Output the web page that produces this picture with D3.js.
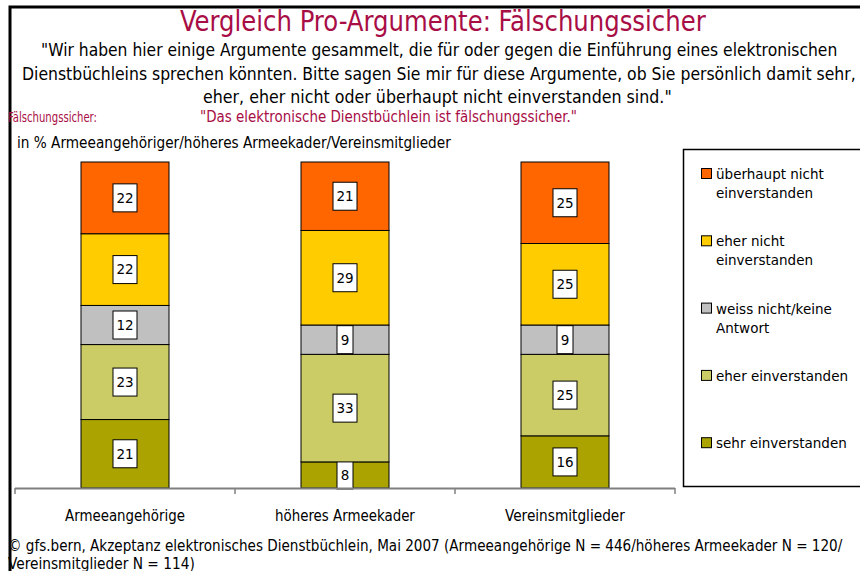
<!DOCTYPE html>
<html>
<head>
<meta charset="utf-8">
<script src="https://cdn.jsdelivr.net/npm/d3@7"></script>
<style>
  body { margin: 0; background: #fff; }
  svg { display: block; }
  .narrow { font-family: "Liberation Sans Narrow", "Arial Narrow", "DejaVu Sans Condensed", sans-serif; }
  .tahoma { font-family: "DejaVu Sans", Verdana, sans-serif; }
</style>
</head>
<body>
<svg width="860" height="571"></svg>
<script>
// Kategorien und Werte (in %)
var categories = ["Armeeangehörige", "höheres Armeekader", "Vereinsmitglieder"];
var sehrEinverstanden = [21, 8, 16];
var eherEinverstanden = [23, 33, 25];
var weissNicht = [12, 9, 9];
var eherNicht = [22, 29, 25];
var ueberhauptNicht = [22, 21, 25];

// von unten nach oben gestapelt
var seriesNames = ["sehr einverstanden", "eher einverstanden", "weiss nicht/keine Antwort",
    "eher nicht einverstanden", "überhaupt nicht einverstanden"];
var seriesValues = [sehrEinverstanden, eherEinverstanden, weissNicht, eherNicht, ueberhauptNicht];
var colors = ["#aba400", "#cccc66", "#c0c0c0", "#ffcc00", "#ff6600"];
// Legendentexte (oben nach unten), Zeilen getrennt
var legendLines = [
    ["überhaupt nicht", "einverstanden"],
    ["eher nicht", "einverstanden"],
    ["weiss nicht/keine", "Antwort"],
    ["eher einverstanden"],
    ["sehr einverstanden"]
];
var red = "#a80d45";

var svg = d3.select("svg");

// schmale Schrift: horizontal auf Zielbreite skaliert
function narrowText(x0, y0, size, width, txt, fill) {
    var t = svg.append("text").attr("class", "narrow")
        .attr("font-size", size)
        .attr("fill", fill || "#000")
        .text(txt);
    var sx = width / t.node().getComputedTextLength();
    t.attr("transform", "translate(" + x0 + "," + y0 + ") scale(" + sx + ",1)");
    return t;
}

// Rahmen links und oben
svg.append("path")
    .attr("d", "M10,571V7H860")
    .attr("fill", "none")
    .attr("stroke", "#000")
    .attr("stroke-width", 3);

// Titel
narrowText(180, 31, 28, 526, "Vergleich Pro-Argumente: Fälschungssicher", red);

narrowText(41, 56, 18.5, 797, "\"Wir haben hier einige Argumente gesammelt, die für oder gegen die Einführung eines elektronischen");
narrowText(22, 79.5, 18.5, 834, "Dienstbüchleins sprechen könnten. Bitte sagen Sie mir für diese Argumente, ob Sie persönlich damit sehr,");
narrowText(203, 103, 18.5, 469, "eher, eher nicht oder überhaupt nicht einverstanden sind.\"");

narrowText(8, 122, 14.5, 89, "Fälschungssicher:", red);
narrowText(200, 122, 15.5, 377, "\"Das elektronische Dienstbüchlein ist fälschungssicher.\"", red);

narrowText(17, 148, 16, 434, "in % Armeeangehöriger/höheres Armeekader/Vereinsmitglieder");

// Schalen
var x = d3.scaleBand().domain(categories).range([15, 675]).padding(0);
var y = d3.scaleLinear().domain([0, 100]).range([488, 162]);
var barW = x.bandwidth() * 0.4;

// gestapelte Daten
var rows = categories.map(function (c, i) {
    var r = { cat: c };
    seriesNames.forEach(function (s, k) { r[s] = seriesValues[k][i]; });
    return r;
});
var stacked = d3.stack().keys(seriesNames)(rows);

var layers = svg.selectAll(".layer")
    .data(stacked)
    .enter().append("g")
    .attr("class", "layer")
    .attr("fill", function (d, k) { return colors[k]; });

layers.selectAll("rect")
    .data(function (d) { return d; })
    .enter().append("rect")
    .attr("x", function (d) { return x(d.data.cat) + (x.bandwidth() - barW) / 2; })
    .attr("y", function (d) { return y(d[1]); })
    .attr("width", barW)
    .attr("height", function (d) { return y(d[0]) - y(d[1]); })
    .attr("stroke", "#000")
    .attr("stroke-width", 1);

// X-Achse
svg.append("line")
    .attr("x1", 15).attr("x2", 675)
    .attr("y1", 488.5).attr("y2", 488.5)
    .attr("stroke", "#808080").attr("stroke-width", 2);
var tickPos = categories.map(function (c) { return x(c); }).concat([x(categories[2]) + x.bandwidth()]);
svg.selectAll(".tick")
    .data(tickPos)
    .enter().append("line")
    .attr("class", "tick")
    .attr("x1", function (d) { return d; }).attr("x2", function (d) { return d; })
    .attr("y1", 488).attr("y2", 494)
    .attr("stroke", "#808080").attr("stroke-width", 1.5);

// Kategorienamen, Breite wie im Original (schmale Schrift)
var catWidths = [120, 140, 120];
categories.forEach(function (c, i) {
    narrowText(x(c) + x.bandwidth() / 2 - catWidths[i] / 2, 521, 16.5, catWidths[i], c);
});

// Wertelabels
var labels = layers.selectAll(".lbl")
    .data(function (d) { return d; })
    .enter().append("g")
    .attr("class", "lbl")
    .attr("transform", function (d) {
        return "translate(" + (x(d.data.cat) + x.bandwidth() / 2) + "," + ((y(d[0]) + y(d[1])) / 2) + ")";
    });
labels.append("rect")
    .attr("x", function (d) { return (d[1] - d[0]) < 10 ? -8 : -12; })
    .attr("y", -14)
    .attr("width", function (d) { return (d[1] - d[0]) < 10 ? 16 : 24; })
    .attr("height", 28)
    .attr("fill", "#fff")
    .attr("stroke", "#000")
    .attr("stroke-width", 1);
labels.append("text")
    .attr("class", "tahoma")
    .attr("text-anchor", "middle")
    .attr("dy", "0.36em")
    .attr("font-size", 13.5)
    .attr("fill", "#000")
    .text(function (d) { return d[1] - d[0]; });

// Legende
svg.append("rect")
    .attr("x", 683.5).attr("y", 149.5)
    .attr("width", 190).attr("height", 337)
    .attr("fill", "#fff")
    .attr("stroke", "#000").attr("stroke-width", 1.5);

var legend = svg.selectAll(".leg")
    .data(legendLines)
    .enter().append("g")
    .attr("class", "leg")
    .attr("transform", function (d, i) { return "translate(701," + (174 + i * 67.3) + ")"; });
legend.append("rect")
    .attr("x", 0.5).attr("y", -5.5)
    .attr("width", 10).attr("height", 10)
    .attr("fill", function (d, i) { return colors[4 - i]; })
    .attr("stroke", "#000").attr("stroke-width", 1);
legend.append("text")
    .attr("class", "tahoma")
    .attr("font-size", 13.5)
    .attr("fill", "#000")
    .selectAll("tspan")
    .data(function (d) { return d; })
    .enter().append("tspan")
    .attr("x", 15)
    .attr("y", function (d, j) { return 5 + j * 19; })
    .text(function (d) { return d; });

// Quelle
narrowText(8, 551, 15.5, 835, "© gfs.bern, Akzeptanz elektronisches Dienstbüchlein, Mai 2007 (Armeeangehörige N = 446/höheres Armeekader N = 120/");
narrowText(8, 569, 15.5, 187, "Vereinsmitglieder N = 114)");
</script>
</body>
</html>
